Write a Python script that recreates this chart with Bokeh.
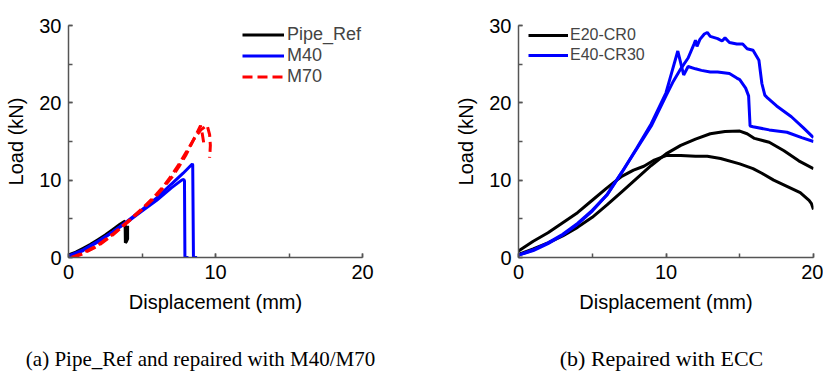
from bokeh.plotting import figure
from bokeh.layouts import row, column
from bokeh.models import Range1d, SingleIntervalTicker, Legend, LegendItem, Label
from bokeh.embed import file_html
from bokeh.resources import INLINE

# ---------------- data: panel (a) ----------------
ref_x = [0, 0.5, 1, 1.5, 2, 2.5, 3, 3.5, 3.85, 3.87, 3.95, 4.02, 4.02]
ref_y = [0.35, 0.7, 1.2, 1.7, 2.3, 2.9, 3.6, 4.3, 4.7, 1.9, 2.1, 2.4, 4.1]

m40a_x = [0, 1, 2, 3, 4, 5, 6, 7, 7.8, 8.42, 8.45, 8.5, 8.75]
m40a_y = [0.1, 0.9, 2.0, 3.3, 4.7, 6.2, 7.7, 9.5, 10.9, 12.1, 12.0, 0, 0]
m40b_x = [0, 1, 2, 3, 4, 5, 6, 7, 7.7, 7.84, 7.89, 7.92, 8.16]
m40b_y = [0.2, 1.0, 2.1, 3.3, 4.6, 6.0, 7.4, 9.0, 10.0, 10.1, 9.9, 0, 0]

m70a_x = [0.2, 1, 2, 3, 4, 5, 6, 6.5, 7, 7.5, 8, 8.5, 9, 9.43, 9.6, 9.65, 9.62, 9.6]
m70a_y = [0, 0.6, 1.6, 3.0, 4.6, 6.3, 8.2, 9.3, 10.6, 12.0, 13.6, 15.2, 16.5, 17.1, 15.9, 14.5, 13.4, 12.9]
m70b_x = [0.3, 1, 2, 3, 4, 5, 6, 7, 7.5, 8, 8.5, 8.98, 9.1, 9.2]
m70b_y = [0, 0.5, 1.5, 2.9, 4.5, 6.2, 8.0, 10.3, 11.7, 13.3, 15.2, 17.05, 16.0, 14.8]

# ---------------- data: panel (b) ----------------
e20a_x = [0, 1, 2, 3, 4, 5, 6, 7, 8, 9, 10, 11, 12, 13, 14, 15, 15.5, 16, 17, 18, 19, 20]
e20a_y = [0.4, 1.1, 1.9, 2.8, 3.9, 5.2, 6.8, 8.5, 10.2, 11.9, 13.4, 14.5, 15.3, 16.0, 16.3, 16.35,
          16.0, 15.4, 14.9, 13.8, 12.5, 11.5]
e20b_x = [0, 1, 2, 3, 4, 5, 6, 7, 7.8, 8.5, 9.15, 10.05, 11, 12, 12.8, 13.7, 15, 15.9, 16.5,
          17.3, 18.2, 19.1, 19.7, 19.85, 20]
e20b_y = [0.85, 2.1, 3.2, 4.5, 5.8, 7.4, 9.0, 10.5, 11.3, 11.8, 12.55, 13.2, 13.2, 13.1, 13.1, 12.8,
          12.1, 11.5, 10.9, 10.0, 9.2, 8.4, 7.4, 7.0, 6.2]

e40a_x = [0, 1, 2, 3, 4, 5, 6, 7, 8, 9, 10, 10.5, 11, 11.5, 11.9, 12.0, 12.1, 12.3, 12.6, 12.8, 13.0,
          13.5, 13.8, 14.0, 14.3, 14.8, 15.2, 15.5, 15.9, 16.3, 16.5, 16.7, 16.9, 17.5, 18.5, 19.3, 20]
e40a_y = [0.3, 0.9, 1.8, 2.9, 4.3, 6.0, 8.1, 11.0, 14.0, 17.0, 20.9, 22.8, 24.4, 25.8, 27.6, 28.1,
          27.3, 28.2, 28.9, 29.1, 28.6, 28.3, 28.0, 28.4, 27.8, 27.6, 27.6, 27.0, 26.8, 25.5, 22.5,
          21.0, 20.6, 19.6, 18.2, 16.8, 15.5]
e40b_x = [0, 1, 2, 3, 4, 5, 6, 7, 8, 9, 10, 10.4, 10.8, 11.2, 11.5, 12, 12.4, 13, 13.5, 14.3, 14.8,
          15.0, 15.4, 15.6, 15.7, 15.9, 17, 18.2, 19.2, 20]
e40b_y = [0.3, 1.0, 1.9, 3.0, 4.4, 6.1, 8.1, 11.0, 14.1, 17.3, 21.3, 24.0, 26.7, 23.6, 24.7, 24.4,
          24.2, 24.0, 24.0, 23.8, 23.2, 23.0, 21.9, 20.9, 17.0, 16.9, 16.5, 16.2, 15.5, 15.0]

caption_a = "(a) Pipe_Ref and repaired with M40/M70"
caption_b = "(b) Repaired with ECC"

FONT = "Liberation Sans"
SERIF = "Liberation Serif"
AXIS_GREY = "#555555"


def style(p):
    for ax in (p.xaxis[0], p.yaxis[0]):
        ax.ticker = SingleIntervalTicker(interval=10, num_minor_ticks=2)
        ax.axis_line_color = AXIS_GREY
        ax.axis_line_width = 1.5
        ax.major_tick_line_color = AXIS_GREY
        ax.minor_tick_line_color = AXIS_GREY
        ax.major_tick_line_width = 1.5
        ax.minor_tick_line_width = 1.5
        ax.major_tick_in = 4
        ax.major_tick_out = 0
        ax.minor_tick_in = 4
        ax.minor_tick_out = 0
        ax.major_label_text_font = FONT
        ax.major_label_text_font_size = "20px"
        ax.major_label_text_color = "black"
        ax.major_label_standoff = 7
        ax.axis_label_text_font = FONT
        ax.axis_label_text_font_size = "20px"
        ax.axis_label_text_font_style = "normal"
        ax.axis_label_text_color = "black"
        ax.axis_label_standoff = 9
    p.xaxis.axis_label = "Displacement (mm)"
    p.yaxis.axis_label = "Load (kN)"
    p.xgrid.visible = False
    p.ygrid.visible = False
    p.outline_line_color = None
    p.background_fill_color = "white"
    p.border_fill_color = "white"


def caption_fig(width, text, cx, size):
    c = figure(width=width, height=32, output_backend="svg", toolbar_location=None,
               x_range=Range1d(0, width), y_range=Range1d(0, 32),
               min_border=0, min_border_left=0, min_border_right=0,
               min_border_top=0, min_border_bottom=0)
    c.axis.visible = False
    c.xgrid.visible = False
    c.ygrid.visible = False
    c.outline_line_color = None
    c.background_fill_color = "white"
    c.border_fill_color = "white"
    c.add_layout(Label(x=cx, y=14, text=text, text_font=SERIF, text_font_size=size,
                       text_align="center", text_baseline="middle", text_color="black"))
    return c


# ---------------- panel (a) ----------------
pa = figure(width=411, height=340, output_backend="svg", toolbar_location=None,
            x_range=Range1d(0, 20), y_range=Range1d(0, 30),
            min_border_left=68, min_border_right=49, min_border_top=23, min_border_bottom=83)
style(pa)
r_ref = pa.line(ref_x, ref_y, line_color="black", line_width=3)
r_m40a = pa.line(m40a_x, m40a_y, line_color="#0000ff", line_width=3)
pa.line(m40b_x, m40b_y, line_color="#0000ff", line_width=3)
r_m70a = pa.line(m70a_x, m70a_y, line_color="#ff0000", line_width=3, line_dash="10 5")
pa.line(m70b_x, m70b_y, line_color="#ff0000", line_width=3, line_dash="10 5")

leg_a = Legend(items=[LegendItem(label="Pipe_Ref", renderers=[r_ref]),
                      LegendItem(label="M40", renderers=[r_m40a]),
                      LegendItem(label="M70", renderers=[r_m70a])],
               location=(174, 170), padding=0, margin=0, spacing=0,
               glyph_width=42, glyph_height=21, label_height=21, label_standoff=3,
               label_text_font=FONT, label_text_font_size="18px",
               border_line_color=None, background_fill_alpha=0)
pa.add_layout(leg_a)

# ---------------- panel (b) ----------------
pb = figure(width=412, height=340, output_backend="svg", toolbar_location=None,
            x_range=Range1d(0, 20), y_range=Range1d(0, 30),
            min_border_left=107, min_border_right=10, min_border_top=25, min_border_bottom=80)
style(pb)
r_e20 = pb.line(e20a_x, e20a_y, line_color="black", line_width=3)
pb.line(e20b_x, e20b_y, line_color="black", line_width=3)
r_e40 = pb.line(e40a_x, e40a_y, line_color="#0000ff", line_width=3)
pb.line(e40b_x, e40b_y, line_color="#0000ff", line_width=3)

leg_b = Legend(items=[LegendItem(label="E20-CR0", renderers=[r_e20]),
                      LegendItem(label="E40-CR30", renderers=[r_e40])],
               location=(10, 192), padding=0, margin=0, spacing=0,
               glyph_width=40, glyph_height=20, label_height=20, label_standoff=2,
               label_text_font=FONT, label_text_font_size="16px",
               border_line_color=None, background_fill_alpha=0)
pb.add_layout(leg_b)

ca = caption_fig(411, caption_a, 200, "21px")
cb = caption_fig(412, caption_b, 250, "22px")

layout = column(row(pa, pb, spacing=0), row(ca, cb, spacing=0), spacing=0)
open("out.html", "w").write(file_html(layout, INLINE))
